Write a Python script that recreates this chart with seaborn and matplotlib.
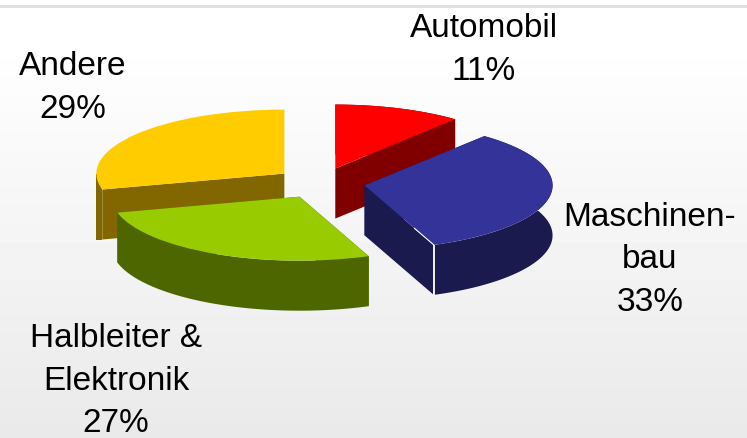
import numpy as np
import matplotlib
matplotlib.use('Agg')
import matplotlib.pyplot as plt
import seaborn as sns

# shares, clockwise from 12 o'clock
labels = ['Automobil\n11%', 'Maschinen-\nbau\n33%', 'Halbleiter &\nElektronik\n27%', 'Andere\n29%']
shares = [11, 33, 27, 29]
top_colors = ['#FF0000', '#333399', '#99CC00', '#FFCC00']
side_colors = ['#800000', '#1A1A4F', '#4D6600', '#826600']

W, H = 747, 438
CX, CY = 320, 183     # pie centre, px
RX, RY = 188, 64      # px per data unit
DEPTH = 50 / RY
EXPLODE = 0.24

sns.set_theme(style='white')
plt.rcParams['font.family'] = ['Liberation Sans', 'DejaVu Sans']

fig, ax = plt.subplots(figsize=(W / 100, H / 100), dpi=100)
fig.subplots_adjust(0, 0, 1, 1)

wedges, _ = ax.pie(shares, explode=[EXPLODE] * 4, startangle=90, counterclock=False,
                   colors=sns.color_palette(top_colors), radius=1)

# painters order, back to front
draw_order = {3: 1, 0: 2, 2: 3, 1: 4}

for i, w in enumerate(wedges):
    z = draw_order[i] * 2
    w.set_zorder(z + 1)
    w.set_linewidth(0)
    cx, cy = w.center
    t = np.radians(np.linspace(w.theta1, w.theta2, 80))
    rim_x = cx + np.cos(t)
    rim_y = cy + np.sin(t)
    side = side_colors[i]
    if i == 3:
        # Andere: wall ends square at the left, no rounded lobe
        x0, x1 = rim_x.min(), rim_x[-1]
        bottom = rim_y[-1] - DEPTH
        ax.fill([x0, x1, x1, x0], [cy, cy, bottom, bottom], color=side, lw=0, zorder=z)
    else:
        # outer wall
        ax.fill(np.r_[rim_x, rim_x[::-1]], np.r_[rim_y, rim_y[::-1] - DEPTH],
                color=side, lw=0, zorder=z)
    # cut faces
    for k in (0, -1):
        ax.fill([cx, rim_x[k], rim_x[k], cx],
                [cy, rim_y[k], rim_y[k] - DEPTH, cy - DEPTH],
                color=side, lw=0, zorder=z)

# white corner on the Maschinenbau block
mb = wedges[1]
a = np.radians(mb.theta1)
ex, ey = mb.center[0] + np.cos(a), mb.center[1] + np.sin(a)
ax.plot([ex, ex], [ey, ey - DEPTH], color='white', lw=1.3, zorder=mb.get_zorder() + 1, solid_capstyle='butt')
ax.plot([mb.center[0] + 0.72 * np.cos(a), ex], [mb.center[1] + 0.72 * np.sin(a), ey],
        color='white', lw=0.8, zorder=mb.get_zorder() + 1)

ax.set_aspect('auto')
ax.set_xlim(-CX / RX, (W - CX) / RX)
ax.set_ylim(-(H - CY) / RY, CY / RY)

# background fade
grad = np.clip((np.arange(H) - 40) / (H - 40), 0, 1)[:, None]
ax.imshow(1 - 0.085 * grad, cmap='gray', vmin=0, vmax=1, aspect='auto',
          extent=[*ax.get_xlim(), *ax.get_ylim()], origin='upper', zorder=0)
ax.axhline((CY - 6) / RY, color='#E0E0E0', lw=2.2, zorder=1)
ax.set_xlim(-CX / RX, (W - CX) / RX)
ax.set_ylim(-(H - CY) / RY, CY / RY)
ax.axis('off')

label_xy = [(484, 50), (650, 260), (116, 381), (73, 88)]
for text, (x, y) in zip(labels, label_xy):
    fig.text(x / W, 1 - y / H, text, ha='center', va='center', fontsize=24, linespacing=1.48,
             color='black')

fig.savefig('out.png', dpi=100)
